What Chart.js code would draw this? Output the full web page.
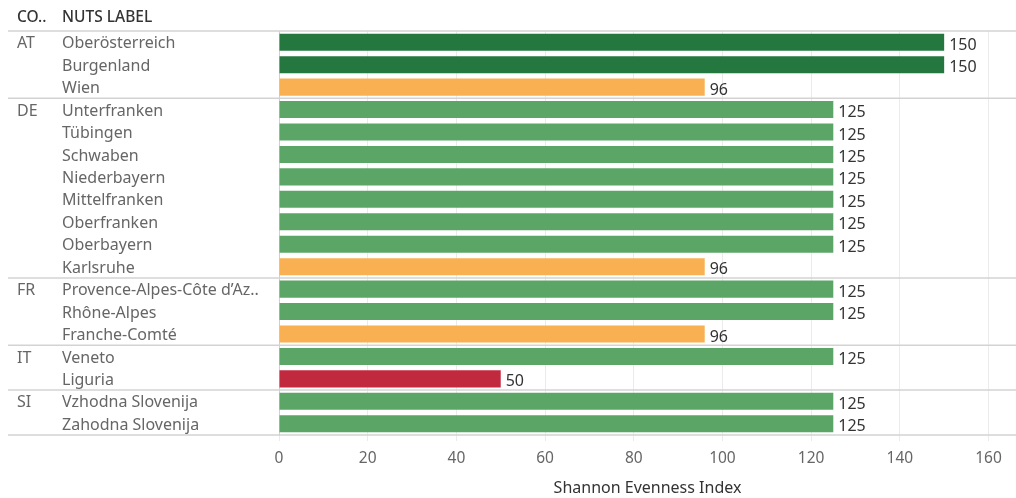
<!DOCTYPE html>
<html>
<head>
<meta charset="utf-8">
<script src="https://cdn.jsdelivr.net/npm/chart.js@4.4.1/dist/chart.umd.min.js"></script>
<style>
  html, body { margin: 0; padding: 0; background: #fff; }
  #wrap { width: 1016px; height: 498px; position: relative; }
</style>
</head>
<body>
<div id="wrap"><canvas id="c" width="1016" height="498"></canvas></div>
<script>
// Shannon Evenness Index by NUTS region, grouped by country
const countries = ['AT', 'AT', 'AT',
  'DE', 'DE', 'DE', 'DE', 'DE', 'DE', 'DE', 'DE',
  'FR', 'FR', 'FR',
  'IT', 'IT',
  'SI', 'SI'];
const regions = ['Oberösterreich', 'Burgenland', 'Wien',
  'Unterfranken', 'Tübingen', 'Schwaben', 'Niederbayern', 'Mittelfranken', 'Oberfranken', 'Oberbayern', 'Karlsruhe',
  'Provence-Alpes-Côte d’Azur', 'Rhône-Alpes', 'Franche-Comté',
  'Veneto', 'Liguria',
  'Vzhodna Slovenija', 'Zahodna Slovenija'];
const evenness = [150, 150, 96,
  125, 125, 125, 125, 125, 125, 125, 96,
  125, 125, 96,
  125, 50,
  125, 125];
const xTicks = [0, 20, 40, 60, 80, 100, 120, 140, 160];

const FONT = '"Noto Sans", "DejaVu Sans", sans-serif';
const TEXT_GREY = '#666666';
const TEXT_DARK = '#333333';
const RULE = '#d3d3d3';

function colourFor(v) {
  if (v >= 150) return '#24773f';
  if (v >= 125) return '#5ba666';
  if (v >= 96) return '#f9b052';
  return '#c0293e';
}

function shortLabel(s) {
  return s.length > 24 ? s.slice(0, 24) + '..' : s;
}

// Header, country column and group separators
const tablePlugin = {
  id: 'tableFrame',
  afterDraw(chart) {
    const ctx = chart.ctx;
    const y = chart.scales.y;
    const area = chart.chartArea;
    const step = y.getPixelForValue(1) - y.getPixelForValue(0);
    ctx.save();
    // header
    ctx.font = '500 15.5px ' + FONT;
    ctx.fillStyle = TEXT_DARK;
    ctx.textBaseline = 'middle';
    ctx.textAlign = 'left';
    ctx.fillText('CO..', 17, 18);
    ctx.fillText('NUTS LABEL', 62, 18);
    // separators
    ctx.strokeStyle = RULE;
    ctx.lineWidth = 1.5;
    const lines = [area.top, area.bottom];
    for (let i = 1; i < countries.length; i++) {
      if (countries[i] !== countries[i - 1]) {
        lines.push(y.getPixelForValue(i) - step / 2);
      }
    }
    lines.forEach(py => {
      ctx.beginPath();
      ctx.moveTo(8, py);
      ctx.lineTo(chart.width, py);
      ctx.stroke();
    });
    // country codes
    ctx.font = '16px ' + FONT;
    ctx.fillStyle = TEXT_GREY;
    countries.forEach((c, i) => {
      if (i === 0 || c !== countries[i - 1]) {
        ctx.fillText(c, 17, y.getPixelForValue(i) + 1.5);
      }
    });
    ctx.restore();
  },
  afterDatasetsDraw(chart) {
    const ctx = chart.ctx;
    const meta = chart.getDatasetMeta(0);
    ctx.save();
    ctx.font = '16px ' + FONT;
    ctx.fillStyle = TEXT_DARK;
    ctx.textBaseline = 'middle';
    ctx.textAlign = 'left';
    meta.data.forEach((bar, i) => {
      ctx.fillText(String(evenness[i]), bar.x + 5, bar.y + 3);
    });
    ctx.restore();
  }
};

new Chart(document.getElementById('c'), {
  type: 'bar',
  data: {
    labels: regions,
    datasets: [{
      data: evenness,
      backgroundColor: evenness.map(colourFor),
      borderWidth: 0,
      barPercentage: 0.76,
      categoryPercentage: 1.0
    }]
  },
  options: {
    indexAxis: 'y',
    responsive: false,
    animation: false,
    devicePixelRatio: 1,
    layout: { padding: { left: 62, top: 31, right: 0, bottom: 0 } },
    plugins: {
      legend: { display: false },
      tooltip: { enabled: false }
    },
    scales: {
      x: {
        type: 'linear',
        min: 0,
        max: 166.2,
        afterBuildTicks(scale) {
          scale.ticks = xTicks.map(v => ({ value: v }));
        },
        afterFit(scale) { scale.height = 63; },
        grid: { color: '#ebebeb', lineWidth: 1, tickLength: 6, drawOnChartArea: true },
        border: { display: false },
        ticks: {
          color: TEXT_GREY,
          font: { family: FONT, size: 15.5 },
          padding: 8,
          maxRotation: 0
        },
        title: {
          display: true,
          text: 'Shannon Evenness Index',
          color: TEXT_DARK,
          font: { family: FONT, size: 16 },
          padding: { top: 6, bottom: 0 }
        }
      },
      y: {
        type: 'category',
        afterFit(scale) { scale.width = 217; },
        grid: { display: false, drawTicks: false },
        border: { display: true, color: '#d0d0d0', width: 1 },
        ticks: {
          crossAlign: 'far',
          color: TEXT_GREY,
          font: { family: FONT, size: 16 },
          padding: 0,
          labelOffset: 1.5,
          callback(value) { return shortLabel(this.getLabelForValue(value)); }
        }
      }
    }
  },
  plugins: [tablePlugin]
});
</script>
</body>
</html>
